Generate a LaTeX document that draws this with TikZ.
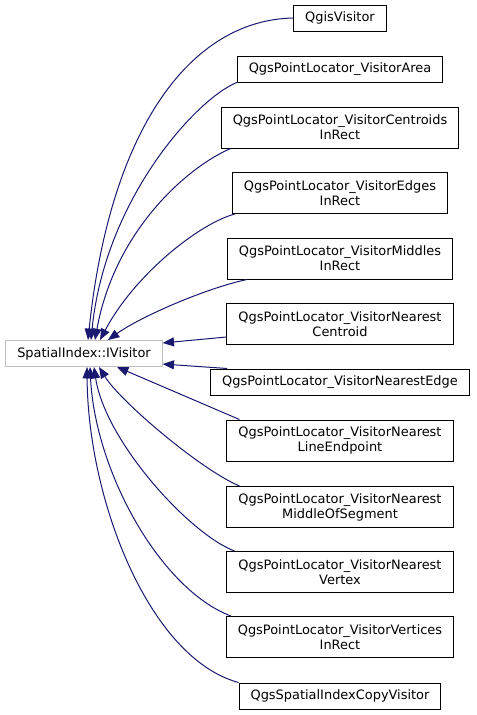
\documentclass[tikz,border=0pt]{standalone}
\usepackage{fontspec}
\setmainfont{DejaVu Sans}
\usepackage{tikz}
\usetikzlibrary{arrows.meta}
\definecolor{midnightblue}{HTML}{191970}
\definecolor{basegray}{HTML}{BFBFBF}

\begin{document}
\begin{tikzpicture}[x=0.75pt, y=-0.75pt,
            font=\fontsize{9.7}{11.25}\selectfont,
            cls/.style={draw=black, line width=0.75pt, fill=white, align=center,
                inner xsep=8.6pt, inner ysep=0pt, minimum height=19.5pt},
            cls2/.style={cls, minimum height=30.75pt},
            base/.style={cls, draw=basegray},
            inh/.style={draw=midnightblue, line width=0.75pt,
                -{Triangle[length=8.5pt, width=6.75pt]}}]
            \useasboundingbox (0,0) rectangle (476,715);
            \node[base] (iv) at (84,353.5) {SpatialIndex::IVisitor};
            \node[cls] (qgis) at (340,18) {QgisVisitor};
            \node[cls] (area) at (340,69) {QgsPointLocator\_VisitorArea};
            \node[cls2] (cen) at (340,127.5) {QgsPointLocator\_VisitorCentroids\\InRect};
            \node[cls2] (edg) at (340,193) {QgsPointLocator\_VisitorEdges\\InRect};
            \node[cls2] (mid) at (340,258.5) {QgsPointLocator\_VisitorMiddles\\InRect};
            \node[cls2] (nc) at (340,324) {QgsPointLocator\_VisitorNearest\\Centroid};
            \node[cls] (ne) at (340,382) {QgsPointLocator\_VisitorNearestEdge};
            \node[cls2] (le) at (340,440.5) {QgsPointLocator\_VisitorNearest\\LineEndpoint};
            \node[cls2] (mos) at (340,507) {QgsPointLocator\_VisitorNearest\\MiddleOfSegment};
            \node[cls2] (vx) at (340,572) {QgsPointLocator\_VisitorNearest\\Vertex};
            \node[cls2] (vir) at (340,637) {QgsPointLocator\_VisitorVertices\\InRect};
            \node[cls] (cpy) at (340,696) {QgsSpatialIndexCopyVisitor};
            \draw[inh] (qgis.west) .. controls +(-103,2) and +(22,-211) .. ([xshift=3pt]iv.north);
            \draw[inh] (area.south west) .. controls +(-40,16) and +(14,-141) .. ([xshift=5.25pt]iv.north);
            \draw[inh] ([xshift=7.5pt]cen.south west) .. controls +(-41,17) and +(20,-111) .. ([xshift=8.25pt]iv.north);
            \draw[inh] ([xshift=2.25pt]edg.south west) .. controls +(-35,9) and +(35,-66) .. ([xshift=12pt]iv.north);
            \draw[inh] ([xshift=15pt]mid.south west) .. controls +(-42,9) and +(32,-23) .. ([xshift=18pt]iv.north);
            \draw[inh] ([yshift=-9.75pt]nc.west) -- ([yshift=7.9pt]iv.east);
            \draw[inh] ([xshift=12.75pt]ne.north west) -- ([yshift=-7.9pt]iv.east);
            \draw[inh] ([xshift=9.75pt]le.north west) -- ([xshift=24.75pt]iv.south);
            \draw[inh] ([xshift=9.75pt]mos.north west) .. controls +(-40,-17) and +(21,34) .. ([xshift=11.25pt]iv.south);
            \draw[inh] ([xshift=6pt]vx.north west) .. controls +(-45,-17) and +(11,74) .. ([xshift=7.5pt]iv.south);
            \draw[inh] ([xshift=3.75pt]vir.north west) .. controls +(-71,-27) and +(5,104) .. ([xshift=4.5pt]iv.south);
            \draw[inh] (cpy.north west) .. controls +(-89,-24) and +(1,134) .. ([xshift=2.25pt]iv.south);
        \end{tikzpicture}
\end{document}
